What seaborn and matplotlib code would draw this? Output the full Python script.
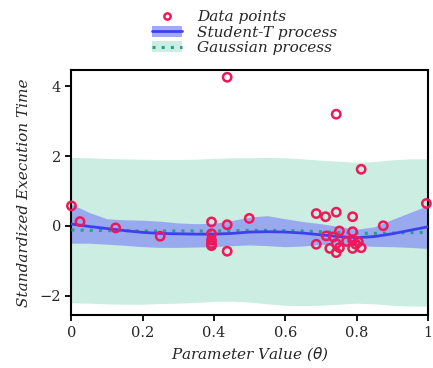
import numpy as np
import pandas as pd
import matplotlib
matplotlib.use("Agg")
import matplotlib.pyplot as plt
import seaborn as sns
from matplotlib.patches import Patch
from matplotlib.lines import Line2D

# ---- data ----
point_theta = [0.00, 0.024, 0.124, 0.249, 0.393, 0.393, 0.393, 0.393, 0.393,
               0.437, 0.437, 0.437, 0.499, 0.687, 0.687, 0.713, 0.715, 0.725,
               0.735, 0.743, 0.743, 0.743, 0.743, 0.752, 0.752, 0.772, 0.789,
               0.789, 0.789, 0.789, 0.798, 0.805, 0.813, 0.813, 0.875, 0.996]
point_time = [0.57, 0.12, -0.06, -0.30, 0.11, -0.23, -0.41, -0.51, -0.57,
              4.26, 0.03, -0.73, 0.21, 0.35, -0.53, 0.26, -0.29, -0.65,
              -0.32, 3.20, 0.39, -0.51, -0.77, -0.15, -0.63, -0.45, 0.26,
              -0.17, -0.41, -0.65, -0.53, -0.46, 1.62, -0.63, 0.00, 0.64]

grid_theta = [0.00, 0.05, 0.10, 0.15, 0.20, 0.25, 0.30, 0.35, 0.40, 0.45, 0.50,
              0.55, 0.60, 0.65, 0.70, 0.75, 0.80, 0.85, 0.90, 0.95, 1.00]
st_mean = [0.05, -0.02, -0.08, -0.14, -0.19, -0.22, -0.23, -0.24, -0.24, -0.22, -0.18,
           -0.17, -0.18, -0.21, -0.26, -0.31, -0.34, -0.31, -0.23, -0.13, -0.03]
st_upper = [0.62, 0.38, 0.20, 0.17, 0.16, 0.13, 0.08, 0.06, 0.07, 0.15, 0.25,
            0.29, 0.20, 0.12, 0.06, -0.02, -0.10, -0.03, 0.18, 0.38, 0.58]
st_lower = [-0.50, -0.50, -0.53, -0.56, -0.60, -0.62, -0.62, -0.61, -0.60, -0.57, -0.55,
            -0.57, -0.60, -0.58, -0.54, -0.54, -0.57, -0.59, -0.60, -0.62, -0.65]
gp_mean = [-0.12, -0.13, -0.14, -0.14, -0.15, -0.15, -0.15, -0.15, -0.15, -0.14, -0.13,
           -0.13, -0.14, -0.15, -0.17, -0.19, -0.21, -0.22, -0.21, -0.20, -0.19]
gp_upper = [1.96, 1.95, 1.93, 1.92, 1.91, 1.90, 1.90, 1.91, 1.93, 1.95, 1.95,
            1.96, 1.95, 1.92, 1.88, 1.85, 1.82, 1.84, 1.89, 1.92, 1.92]
gp_lower = [-2.21, -2.22, -2.24, -2.25, -2.25, -2.23, -2.22, -2.20, -2.17, -2.16, -2.19,
            -2.24, -2.28, -2.29, -2.28, -2.25, -2.22, -2.24, -2.28, -2.30, -2.31]

x_ticks = [0, 0.2, 0.4, 0.6, 0.8, 1]
x_tick_labels = ["0", "0.2", "0.4", "0.6", "0.8", "1"]
y_ticks = [-2, 0, 2, 4]
y_tick_labels = ["\u22122", "0", "2", "4"]

# ---- style ----
sns.set_theme(style="ticks")
plt.rcParams['font.family'] = ['DejaVu Serif']

pt_color = "#f0185a"
st_color = "#3f3ff2"
st_band = "#8f9ef0"
gp_color = "#2a9d8f"
gp_band = "#cbede2"

fig = plt.figure(figsize=(4.33, 3.68), dpi=100)
ax = fig.add_axes([0.165, 0.143, 0.823, 0.667])

grid_df = pd.DataFrame({"theta": grid_theta, "st_mean": st_mean, "gp_mean": gp_mean})
pts_df = pd.DataFrame({"theta": point_theta, "time": point_time})

ax.fill_between(grid_theta, gp_lower, gp_upper, color=gp_band, lw=0, zorder=1)
ax.fill_between(grid_theta, st_lower, st_upper, color=st_band, alpha=0.85, lw=0, zorder=2)
sns.lineplot(data=grid_df, x="theta", y="gp_mean", ax=ax, color=gp_color, lw=2.2,
             linestyle=(0, (1, 2)), zorder=3)
sns.lineplot(data=grid_df, x="theta", y="st_mean", ax=ax, color=st_color, lw=2.0, zorder=4)
sns.scatterplot(data=pts_df, x="theta", y="time", ax=ax, facecolor="none",
                edgecolor=pt_color, linewidth=1.8, s=36, zorder=5, clip_on=False)

ax.set_xlim(0, 1)
ax.set_ylim(-2.57, 4.47)
ax.set_xticks(x_ticks)
ax.set_xticklabels(x_tick_labels)
ax.set_yticks(y_ticks)
ax.set_yticklabels(y_tick_labels)
ax.tick_params(axis="both", labelsize=10.5, length=4, width=1.3, color="black", direction="out")
for s in ax.spines.values():
    s.set_visible(True)
    s.set_color("black")
    s.set_linewidth(1.5)
ax.set_xlabel("Parameter Value ($\\theta$)", fontsize=11, style="italic")
ax.set_ylabel("Standardized Execution Time", fontsize=11, style="italic", labelpad=6)

h_pts = Line2D([], [], marker="o", linestyle="none", markerfacecolor="none",
               markeredgecolor=pt_color, markeredgewidth=1.8, markersize=4.5)
h_st = (Patch(facecolor=st_band, alpha=0.85, edgecolor="none"),
        Line2D([], [], color=st_color, lw=2.0))
h_gp = (Patch(facecolor=gp_band, edgecolor="none"),
        Line2D([], [], color=gp_color, lw=2.2, linestyle=(0, (1, 2))))
leg = fig.legend([h_pts, h_st, h_gp], ["Data points", "Student-T process", "Gaussian process"],
                 loc="upper center", bbox_to_anchor=(0.565, 1.01), frameon=False,
                 handlelength=2.0, labelspacing=0.1, handletextpad=1.0,
                 prop={"style": "italic", "size": 11})

fig.savefig("out.png", dpi=100)
